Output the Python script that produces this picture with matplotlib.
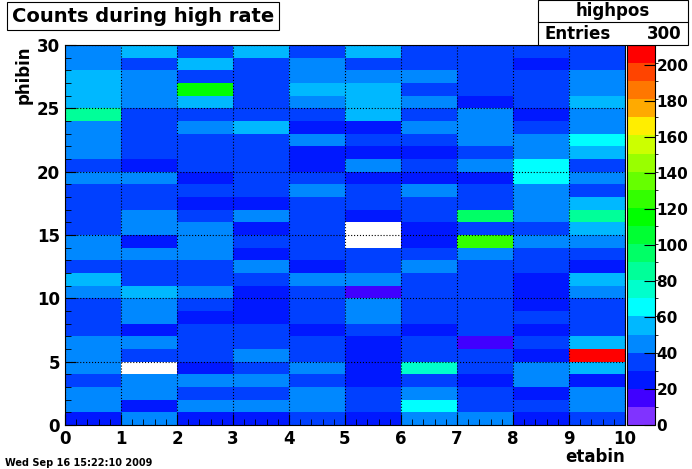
import numpy as np
import matplotlib
matplotlib.use("Agg")
import matplotlib.pyplot as plt
from matplotlib.colors import ListedColormap, BoundaryNorm
from matplotlib.ticker import MultipleLocator

D, M, A, L, C = 25, 35, 45, 55, 65

# rows from phibin 29 (top) down to 0, columns etabin 0..9
rows_top_down = [
    [A, L, M, L, M, L, M, M, M, M],
    [A, M, L, M, A, M, M, M, D, M],
    [L, A, M, M, A, A, A, M, M, A],
    [L, A, 112, M, L, L, M, M, M, A],
    [L, A, L, M, A, L, A, D, M, L],
    [88, M, M, M, M, L, M, A, D, A],
    [A, M, A, L, D, D, A, A, M, A],
    [A, M, M, M, A, M, M, A, A, C],
    [A, M, M, M, D, D, D, M, A, L],
    [M, D, M, M, D, A, M, A, C, M],
    [A, A, D, M, M, D, D, D, C, A],
    [M, M, M, M, A, M, A, M, A, M],
    [M, M, D, D, M, M, M, M, A, L],
    [M, A, M, A, M, D, M, 98, A, 88],
    [M, A, A, D, M, 0, D, M, M, L],
    [A, D, A, M, M, 0, D, 125, A, A],
    [A, A, A, D, M, M, M, A, M, M],
    [M, M, M, A, D, M, A, M, M, D],
    [L, M, M, M, A, A, M, M, D, L],
    [A, L, A, D, M, 15, M, M, D, A],
    [M, A, M, D, M, A, M, M, D, M],
    [M, A, D, D, M, A, M, M, M, M],
    [M, D, M, M, D, M, D, M, D, M],
    [A, A, M, M, M, D, M, 15, M, L],
    [A, M, M, A, M, D, M, M, D, 205],
    [A, 0, D, M, A, D, 75, M, A, L],
    [M, A, A, A, M, D, M, D, A, D],
    [A, A, M, M, A, M, A, M, D, A],
    [A, D, A, A, A, M, C, M, M, A],
    [D, A, D, D, M, D, A, A, D, M],
]
counts = np.array(rows_top_down[::-1], dtype=float)
counts = np.ma.masked_where(counts <= 0, counts)

palette = ["#8033ff", "#4000ff", "#0018ff", "#0040ff", "#0088ff", "#00b8ff",
           "#00ffff", "#00ffcc", "#00ff99", "#00ff66", "#00ff33", "#00ff00",
           "#33ff00", "#66ff00", "#99ff00", "#ccff00", "#ffee00", "#ffaa00",
           "#ff7700", "#ff4400", "#ff0000"]
zmax = 211
cmap = ListedColormap(palette)
cmap.set_bad("white")
norm = BoundaryNorm(np.linspace(0, zmax, len(palette) + 1), len(palette))

fig = plt.figure(figsize=(6.92, 4.69), dpi=100)
W, H = 692, 469
ax = fig.add_axes([65 / W, 1 - 425 / H, 560 / W, 380 / H])
cax = fig.add_axes([627 / W, 1 - 425 / H, 28 / W, 380 / H])

mesh = ax.pcolormesh(np.arange(11), np.arange(31), counts, cmap=cmap, norm=norm)
ax.set_xlim(0, 10)
ax.set_ylim(0, 30)
ax.xaxis.set_major_locator(MultipleLocator(1))
ax.xaxis.set_minor_locator(MultipleLocator(0.2))
ax.yaxis.set_major_locator(MultipleLocator(5))
ax.yaxis.set_minor_locator(MultipleLocator(1))
ax.tick_params(which="both", direction="in", top=False, right=False)
ax.tick_params(which="major", length=8, labelsize=12)
ax.tick_params(which="minor", length=4)
for lab in ax.get_xticklabels() + ax.get_yticklabels():
    lab.set_fontweight("bold")
ax.grid(True, which="major", color="black", linestyle=":", linewidth=0.8)
ax.set_axisbelow(False)

cb = fig.colorbar(mesh, cax=cax, ticks=np.arange(0, 201, 20))
cb.ax.tick_params(labelsize=11, direction="in", length=8, pad=1)
for lab in cb.ax.get_yticklabels():
    lab.set_fontweight("bold")
cb.outline.set_linewidth(0.8)

fig.text(625 / W, 1 - 462 / H, "etabin", ha="right", fontsize=12, fontweight="bold")
fig.text(15 / W, 1 - 45 / H, "phibin", rotation=90, va="top", fontsize=12, fontweight="bold")
fig.text(5 / W, 1 - 466 / H, "Wed Sep 16 15:22:10 2009", fontsize=7, fontweight="bold")

fig.text(12 / W, 1 - 16 / H, "Counts during high rate", va="center", fontsize=14, fontweight="bold",
         bbox=dict(boxstyle="square,pad=0.25", fc="white", ec="black", lw=0.8))

sx0, sx1 = 538 / W, 688 / W
box = plt.Rectangle((sx0, 1 - 45 / H), sx1 - sx0, 45 / H, transform=fig.transFigure,
                    fc="white", ec="black", lw=0.8)
fig.add_artist(box)
fig.add_artist(plt.Line2D([sx0, sx1], [1 - 22 / H, 1 - 22 / H], transform=fig.transFigure,
                          color="black", lw=0.8))
fig.text((sx0 + sx1) / 2, 1 - 11 / H, "highpos", ha="center", va="center", fontsize=12, fontweight="bold")
fig.text(545 / W, 1 - 34 / H, "Entries", va="center", fontsize=12, fontweight="bold")
fig.text(682 / W, 1 - 34 / H, "300", ha="right", va="center", fontsize=12, fontweight="bold")

fig.savefig("out.png", dpi=100)
